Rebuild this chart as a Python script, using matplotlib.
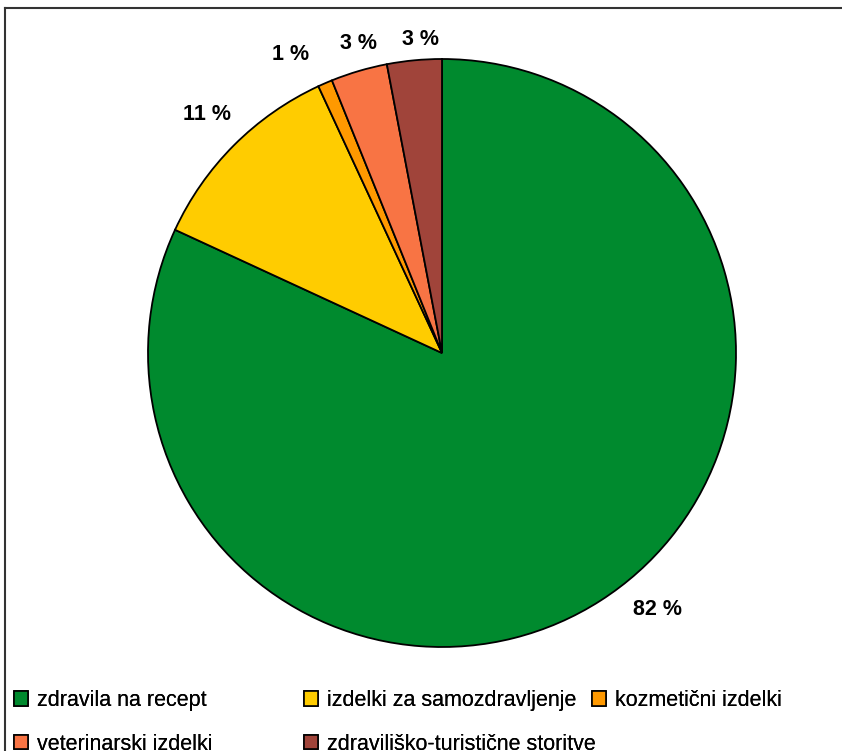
import numpy as np
import matplotlib.pyplot as plt
from matplotlib.patches import Patch
from matplotlib.lines import Line2D

labels = ["zdravila na recept", "izdelki za samozdravljenje", "kozmetični izdelki",
          "veterinarski izdelki", "zdraviliško-turistične storitve"]
shares = [81.8, 11.2, 0.8, 3.1, 3.0]
colors = ["#008A2E", "#FFCC00", "#FF9900", "#F87444", "#A0443A"]

plt.rcParams["font.family"] = ["Liberation Sans", "DejaVu Sans"]

W, H = 842, 751
fig = plt.figure(figsize=(W / 100, H / 100), dpi=100)

cx, cy, r = 442, 353, 294
ax = fig.add_axes([(cx - r) / W, (H - cy - r) / H, 2 * r / W, 2 * r / H])

wedges, _, pcts = ax.pie(shares, colors=colors, startangle=90, counterclock=False,
                         autopct=lambda p: "%d %%" % round(p), pctdistance=1.12,
                         wedgeprops=dict(edgecolor="black", linewidth=1.3),
                         textprops=dict(fontsize=15.5, fontweight="bold", color="black"))
ax.set_xlim(-1, 1)
ax.set_ylim(-1, 1)
ax.set_aspect("equal")

# nudge labels toward where the original put them
nudges = [(1.14, 7.5), (1.14, -0.5), (1.14, 3.5), (1.09, -1.3), (1.07, -1.4)]
for w, t, (d, da) in zip(wedges, pcts, nudges):
    a = np.deg2rad((w.theta1 + w.theta2) / 2 + da)
    t.set_position((d * np.cos(a), d * np.sin(a)))

# frame lines (only top and left are visible)
fig.add_artist(Line2D([5 / W, 1], [1 - 8 / H, 1 - 8 / H], color="#333333", lw=1.5))
fig.add_artist(Line2D([5 / W, 5 / W], [1 - 8 / H, 0], color="#333333", lw=1.5))

handles = [Patch(facecolor=c, edgecolor="black", linewidth=1.2) for c in colors]
cols = [[0, 3], [1, 4], [2]]
col_x = [14, 304, 592]
for idx, x in zip(cols, col_x):
    leg = fig.legend([handles[i] for i in idx], [labels[i] for i in idx],
                     loc="upper left", bbox_to_anchor=(x / W, 1 - 690 / H),
                     frameon=False, fontsize=15.5, handlelength=0.65, handleheight=0.65,
                     handletextpad=0.4, labelspacing=1.05, borderpad=0, borderaxespad=0)
    fig.add_artist(leg)

fig.savefig("out.png", dpi=100)
